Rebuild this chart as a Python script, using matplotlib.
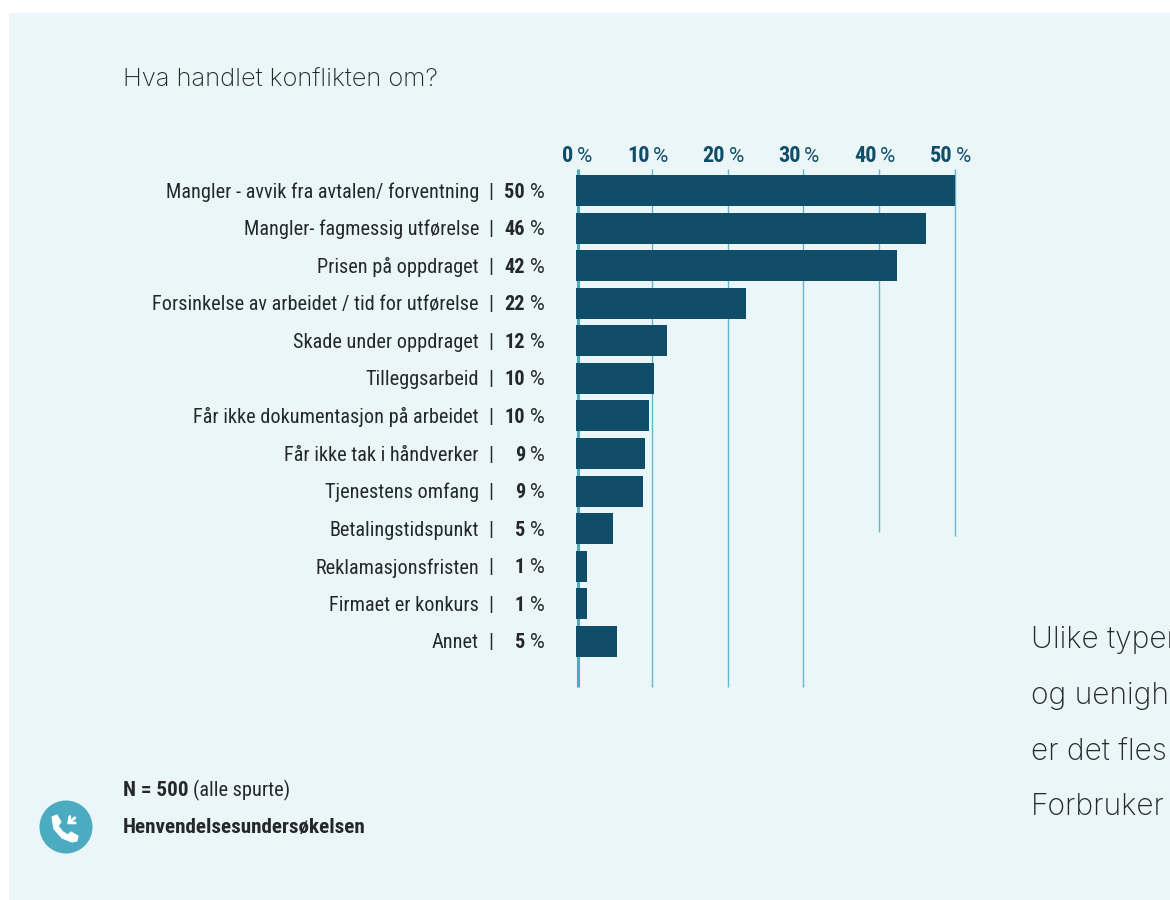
import matplotlib
matplotlib.use("Agg")
import matplotlib.pyplot as plt
from matplotlib.patches import Circle, Rectangle, PathPatch
from matplotlib.path import Path
from matplotlib.transforms import ScaledTranslation

W, H = 1170, 900
NARROW = "Roboto Condensed"
PLAIN = "Roboto"
BODY = "Inter"

INK = "#25282b"
NAVY = "#104d68"
TEAL = "#4bacc1"
GRID = "#62b7ca"
PANEL = "#eaf6f8"

question = "Hva handlet konflikten om?"
categories = [
    "Mangler - avvik fra avtalen/ forventning",
    "Mangler- fagmessig utførelse",
    "Prisen på oppdraget",
    "Forsinkelse av arbeidet / tid for utførelse",
    "Skade under oppdraget",
    "Tilleggsarbeid",
    "Får ikke dokumentasjon på arbeidet",
    "Får ikke tak i håndverker",
    "Tjenestens omfang",
    "Betalingstidspunkt",
    "Reklamasjonsfristen",
    "Firmaet er konkurs",
    "Annet",
]
shares = [50.0, 46.2, 42.4, 22.4, 12.0, 10.3, 9.6, 9.1, 8.8, 4.9, 1.45, 1.49, 5.4]
ticks = [0, 10, 20, 30, 40, 50]
grid_bottom = [13.2, 13.2, 13.2, 13.2, 9.1, 9.2]
side_text = ["Ulike typer", "og uenighe", "er det fles", "Forbruker"]

fig = plt.figure(figsize=(W / 100, H / 100), dpi=100, facecolor="white")

# Full-figure layer in pixel coordinates for the panel, notes and icon
page = fig.add_axes([0, 0, 1, 1])
page.set_xlim(0, W)
page.set_ylim(H, 0)
page.axis("off")
page.add_patch(Rectangle((9, 13), W - 9, H - 13, fc=PANEL, ec="none"))

page.text(123, 80.5, question, family=BODY, fontsize=18.4, color=INK, va="center",
          fontweight="light")

# Bar chart
left, right, top, bottom = 576, 955, 169, 686
first_row, row_step = 190.5, 37.58
ax = fig.add_axes([left / W, 1 - bottom / H, (right - left) / W, (bottom - top) / H])
ax.patch.set_alpha(0)
ax.set_xlim(0, 50)
ax.set_ylim((bottom - first_row) / row_step, (top - first_row) / row_step)
ax.axis("off")

for t, end in zip(ticks, grid_bottom):
    trans = ax.transData
    lw = 1.0
    color = GRID
    if t == 0:
        trans = trans + ScaledTranslation(1.5 / 100, 0, fig.dpi_scale_trans)
        lw = 2.2
        color = TEAL
    ax.plot([t, t], [ax.get_ylim()[1], end], color=color, lw=lw, transform=trans,
            clip_on=False, solid_capstyle="butt", zorder=1)
    # Axis labels sit above the plot: number left of the gridline, % sign right of it
    ax.annotate(str(t), (t, 156), xycoords=(ax.transData, page.transData), xytext=(-1.8, 0),
                textcoords="offset points", ha="right", va="center", annotation_clip=False,
                family=NARROW, fontweight="bold", fontsize=16, color=NAVY)
    ax.annotate("%", (t, 156), xycoords=(ax.transData, page.transData), xytext=(0.6, 0),
                textcoords="offset points", ha="left", va="center", annotation_clip=False,
                family=PLAIN, fontsize=15, color=NAVY)

ax.barh(range(len(shares)), shares, height=31 / row_step, color=NAVY, zorder=2)

fs = 14.6
for i, (name, v) in enumerate(zip(categories, shares)):
    y = first_row + 1.5 + row_step * i
    page.text(479, y, name, ha="right", va="center", family=NARROW, fontsize=fs, color=INK)
    page.text(491, y, "|", ha="center", va="center", family=NARROW, fontsize=fs, color=INK)
    page.text(525, y, f"{round(v)}", ha="right", va="center", family=NARROW,
              fontweight="bold", fontsize=fs, color=INK)
    page.text(530, y, "%", ha="left", va="center", family=PLAIN, fontsize=fs, color=INK)

# Source notes
bold = page.text(123, 790, "N = 500", family=NARROW, fontweight="bold", fontsize=15.2,
                 color=INK, va="center")
page.annotate("(alle spurte)", xy=(1, 0.5), xycoords=bold, xytext=(3, 0),
              textcoords="offset points", family=NARROW, fontsize=fs, color=INK, va="center")
page.text(123, 828, "Henvendelsesundersøkelsen", family=NARROW, fontweight="bold",
          fontsize=15.2, color=INK, va="center")

# Telephone badge
page.add_patch(Circle((66, 827), 26.5, fc=TEAL, ec="none"))
handset = Path(
    [(52, 817), (57, 815), (61, 822), (58, 826), (63, 832), (68, 835), (71, 832),
     (78, 836), (77, 841), (72, 842), (62, 838), (54, 829), (52, 817)],
    [Path.MOVETO] + [Path.LINETO] * 11 + [Path.CLOSEPOLY],
)
page.add_patch(PathPatch(handset, fc="white", ec="white", lw=0.8, joinstyle="round"))
page.annotate("", xy=(65, 826), xytext=(77, 816),
              arrowprops=dict(arrowstyle="->,head_length=0.35,head_width=0.3", color="white", lw=2))

# Body copy running off the right-hand side
for y, line in zip([640, 696, 752, 807], side_text):
    page.text(1031, y, line, family=BODY, fontsize=21.6, color=INK, va="center",
              fontweight="light")

fig.savefig("out.png", dpi=100, facecolor="white")
